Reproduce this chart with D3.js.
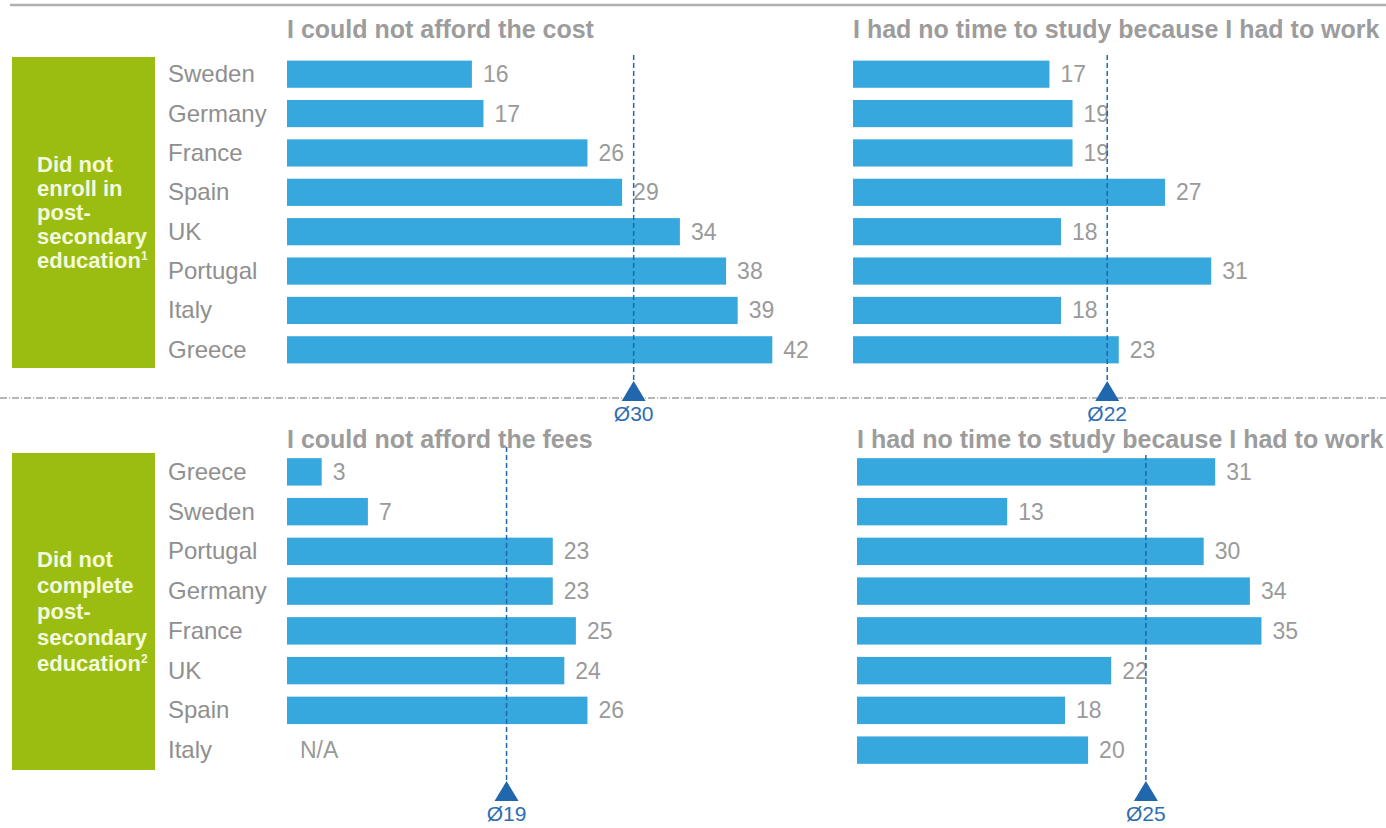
<!DOCTYPE html>
<html>
<head>
<meta charset="utf-8">
<script src="https://cdn.jsdelivr.net/npm/d3@7"></script>
<style>
  body { margin: 0; background: #fff; }
  svg { display: block; font-family: "Liberation Sans", Arial, sans-serif; }
</style>
</head>
<body>
<div id="chart"></div>
<script>
const topCountries = ["Sweden", "Germany", "France", "Spain", "UK", "Portugal", "Italy", "Greece"];
const costValues = [16, 17, 26, 29, 34, 38, 39, 42];
const workTopValues = [17, 19, 19, 27, 18, 31, 18, 23];

const bottomCountries = ["Greece", "Sweden", "Portugal", "Germany", "France", "UK", "Spain", "Italy"];
const feesValues = [3, 7, 23, 23, 25, 24, 26, null];
const workBottomValues = [31, 13, 30, 34, 35, 22, 18, 20];

const panelTitles = ["I could not afford the cost", "I had no time to study because I had to work",
                     "I could not afford the fees", "I had no time to study because I had to work"];
const averages = [30, 22, 19, 25];
const groupLabels = [["Did not", "enroll in", "post-", "secondary", "education", "1"],
                     ["Did not", "complete", "post-", "secondary", "education", "2"]];

const width = 1386, height = 828;
const barColor = "#36a8dd";
const avgColor = "#2067ad";

const svg = d3.select("#chart")
  .append("svg")
    .attr("width", width)
    .attr("height", height);

// cropped header rule at the very top
svg.append("line")
  .attr("x1", 10).attr("x2", width)
  .attr("y1", 5).attr("y2", 5)
  .style("stroke", "#b0b0b0")
  .style("stroke-width", 2.5);

// dotted separator between the two halves
svg.append("line")
  .attr("x1", 0).attr("x2", width)
  .attr("y1", 398).attr("y2", 398)
  .style("stroke", "#a0a0a0")
  .style("stroke-width", 1.5)
  .style("stroke-dasharray", "7,2,1,2");

const x = d3.scaleLinear()
  .domain([0, 45])
  .range([0, 520]);

const yTop = d3.scaleBand()
  .domain(topCountries)
  .range([54.5, 369.5])
  .paddingInner(0.31)
  .paddingOuter(0.155);

const yBottom = d3.scaleBand()
  .domain(bottomCountries)
  .range([452, 770])
  .paddingInner(0.31)
  .paddingOuter(0.155);

function drawGroupBox(y0, y1, lines, lineGap) {
  svg.append("rect")
    .attr("x", 12).attr("y", y0)
    .attr("width", 143).attr("height", y1 - y0)
    .style("fill", "#9bbd12");

  const mid = (y0 + y1) / 2;
  const n = lines.length - 1;
  const firstBase = mid - (n - 1) * lineGap / 2 + 7;

  const g = svg.append("g");
  lines.slice(0, n).forEach(function(t, i) {
    const txt = g.append("text")
      .attr("x", 37)
      .attr("y", firstBase + i * lineGap)
      .style("fill", "#f3fadf")
      .style("font-size", "22px")
      .style("font-weight", "bold")
      .text(t);
    if (i === n - 1) {
      txt.append("tspan")
        .attr("dy", -8)
        .style("font-size", "12px")
        .text(lines[n]);
    }
  });
}

function drawCountryLabels(y, countries) {
  svg.selectAll("countryLabels")
    .data(countries)
    .enter()
    .append("text")
      .attr("x", 168)
      .attr("y", function(d) { return y(d) + y.bandwidth() / 2 + 8; })
      .style("fill", "#8f8f8f")
      .style("font-size", "24px")
      .text(function(d) { return d; });
}

function drawPanel(x0, y, countries, values, title, titleY, avg, avgTop, triTip) {
  const g = svg.append("g")
    .attr("transform", "translate(" + x0 + ",0)");

  g.append("text")
    .attr("x", 0)
    .attr("y", titleY)
    .style("fill", "#9c9c9c")
    .style("font-size", "25px")
    .style("font-weight", "bold")
    .text(title);

  const rows = countries.map(function(c, i) { return { country: c, value: values[i] }; });

  g.selectAll("bars")
    .data(rows.filter(function(d) { return d.value !== null; }))
    .enter()
    .append("rect")
      .attr("x", 0)
      .attr("y", function(d) { return y(d.country); })
      .attr("width", function(d) { return x(d.value); })
      .attr("height", y.bandwidth())
      .style("fill", barColor);

  g.selectAll("values")
    .data(rows)
    .enter()
    .append("text")
      .attr("x", function(d) { return d.value === null ? 13 : x(d.value) + 11; })
      .attr("y", function(d) { return y(d.country) + y.bandwidth() / 2 + 8; })
      .style("fill", "#9a9a9a")
      .style("font-size", "23px")
      .text(function(d) { return d.value === null ? "N/A" : d.value; });

  // average marker
  const ax = x(avg);
  g.append("line")
    .attr("x1", ax).attr("x2", ax)
    .attr("y1", avgTop).attr("y2", triTip)
    .style("stroke", avgColor)
    .style("stroke-width", 1.5)
    .style("stroke-dasharray", "5,3");

  g.append("path")
    .attr("d", d3.line()([[ax, triTip], [ax + 12, triTip + 20], [ax - 12, triTip + 20]]) + "Z")
    .style("fill", avgColor);

  g.append("text")
    .attr("x", ax)
    .attr("y", triTip + 40)
    .attr("text-anchor", "middle")
    .style("fill", "#2f6db3")
    .style("font-size", "21px")
    .text("\u00D8" + avg);
}

drawGroupBox(57, 368, groupLabels[0], 24);
drawGroupBox(453, 770, groupLabels[1], 26);

drawCountryLabels(yTop, topCountries);
drawCountryLabels(yBottom, bottomCountries);

drawPanel(287, yTop, topCountries, costValues, panelTitles[0], 38, averages[0], 55, 381);
drawPanel(853, yTop, topCountries, workTopValues, panelTitles[1], 38, averages[1], 55, 381);
drawPanel(287, yBottom, bottomCountries, feesValues, panelTitles[2], 448, averages[2], 447, 781);
drawPanel(857, yBottom, bottomCountries, workBottomValues, panelTitles[3], 448, averages[3], 455, 781);
</script>
</body>
</html>
